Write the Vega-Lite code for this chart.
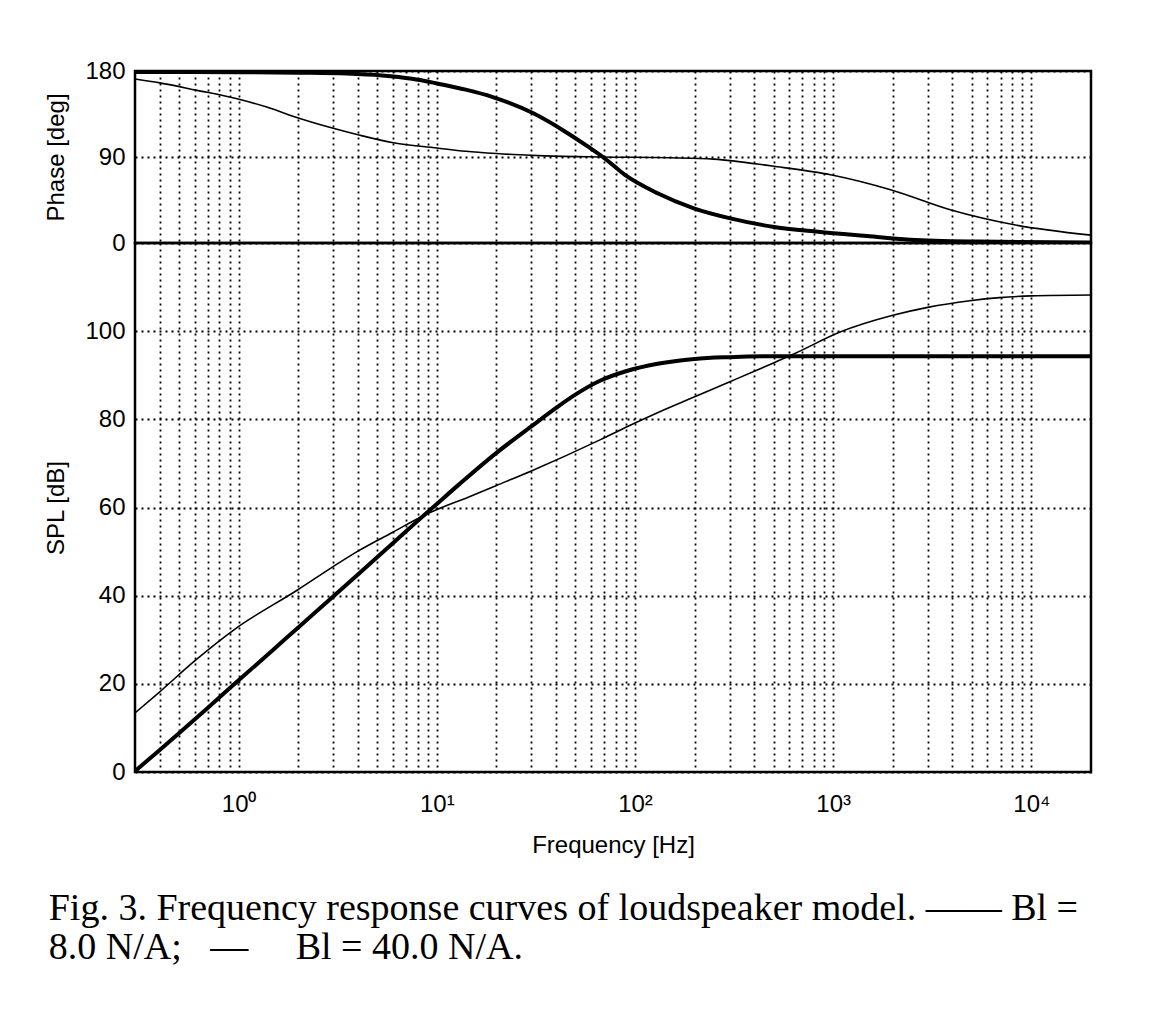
{
  "$schema": "https://vega.github.io/schema/vega-lite/v6.json",
  "padding": {"left": 43, "top": 57, "right": 69, "bottom": 60},
  "background": "white",
  "bounds": "flush",
  "title": {
    "text": ["Fig. 3. Frequency response curves of loudspeaker model.\u00a0——\u00a0Bl =", "8.0 N/A;\u00a0\u00a0\u00a0—\u00a0\u00a0\u00a0\u00a0\u00a0Bl = 40.0 N/A."],
    "orient": "bottom",
    "anchor": "start",
    "font": "Liberation Serif",
    "fontSize": 38,
    "fontWeight": "normal",
    "color": "black",
    "lineHeight": 39,
    "offset": 32,
    "dx": 5
  },
  "datasets": {
    "phase": [
      {"f": 0.3, "v": 179, "s": "Bl = 8.0 N/A"},
      {"f": 1, "v": 178.8, "s": "Bl = 8.0 N/A"},
      {"f": 2, "v": 178.2, "s": "Bl = 8.0 N/A"},
      {"f": 3.5, "v": 177.3, "s": "Bl = 8.0 N/A"},
      {"f": 5.3, "v": 175.3, "s": "Bl = 8.0 N/A"},
      {"f": 7.5, "v": 171.8, "s": "Bl = 8.0 N/A"},
      {"f": 10, "v": 167, "s": "Bl = 8.0 N/A"},
      {"f": 14, "v": 160.5, "s": "Bl = 8.0 N/A"},
      {"f": 19, "v": 153, "s": "Bl = 8.0 N/A"},
      {"f": 30.7, "v": 135.7, "s": "Bl = 8.0 N/A"},
      {"f": 44.5, "v": 116.5, "s": "Bl = 8.0 N/A"},
      {"f": 58, "v": 100.8, "s": "Bl = 8.0 N/A"},
      {"f": 70.3, "v": 88.6, "s": "Bl = 8.0 N/A"},
      {"f": 89, "v": 71.2, "s": "Bl = 8.0 N/A"},
      {"f": 130, "v": 52, "s": "Bl = 8.0 N/A"},
      {"f": 198, "v": 36.3, "s": "Bl = 8.0 N/A"},
      {"f": 303, "v": 25.8, "s": "Bl = 8.0 N/A"},
      {"f": 494, "v": 17.1, "s": "Bl = 8.0 N/A"},
      {"f": 840, "v": 11.8, "s": "Bl = 8.0 N/A"},
      {"f": 1432, "v": 7.5, "s": "Bl = 8.0 N/A"},
      {"f": 2438, "v": 3.5, "s": "Bl = 8.0 N/A"},
      {"f": 5420, "v": 1.5, "s": "Bl = 8.0 N/A"},
      {"f": 20000, "v": 0.5, "s": "Bl = 8.0 N/A"},
      {"f": 0.3, "v": 171.6, "s": "Bl = 40.0 N/A"},
      {"f": 0.4, "v": 167.6, "s": "Bl = 40.0 N/A"},
      {"f": 0.61, "v": 160, "s": "Bl = 40.0 N/A"},
      {"f": 0.97, "v": 151.2, "s": "Bl = 40.0 N/A"},
      {"f": 1.4, "v": 142, "s": "Bl = 40.0 N/A"},
      {"f": 1.93, "v": 131.9, "s": "Bl = 40.0 N/A"},
      {"f": 2.97, "v": 120.3, "s": "Bl = 40.0 N/A"},
      {"f": 4.05, "v": 113, "s": "Bl = 40.0 N/A"},
      {"f": 5.94, "v": 105.2, "s": "Bl = 40.0 N/A"},
      {"f": 10, "v": 99.5, "s": "Bl = 40.0 N/A"},
      {"f": 14, "v": 96, "s": "Bl = 40.0 N/A"},
      {"f": 20, "v": 93.6, "s": "Bl = 40.0 N/A"},
      {"f": 35, "v": 91.2, "s": "Bl = 40.0 N/A"},
      {"f": 68, "v": 90, "s": "Bl = 40.0 N/A"},
      {"f": 150, "v": 89.2, "s": "Bl = 40.0 N/A"},
      {"f": 250, "v": 87.8, "s": "Bl = 40.0 N/A"},
      {"f": 492, "v": 80.5, "s": "Bl = 40.0 N/A"},
      {"f": 984, "v": 71.2, "s": "Bl = 40.0 N/A"},
      {"f": 1968, "v": 55.5, "s": "Bl = 40.0 N/A"},
      {"f": 3937, "v": 34.5, "s": "Bl = 40.0 N/A"},
      {"f": 8318, "v": 18.8, "s": "Bl = 40.0 N/A"},
      {"f": 20000, "v": 8.2, "s": "Bl = 40.0 N/A"}
    ],
    "spl": [
      {"f": 0.3, "v": 0.2, "s": "Bl = 8.0 N/A"},
      {"f": 0.4, "v": 5, "s": "Bl = 8.0 N/A"},
      {"f": 0.5, "v": 8.8, "s": "Bl = 8.0 N/A"},
      {"f": 0.7, "v": 14.6, "s": "Bl = 8.0 N/A"},
      {"f": 1, "v": 20.8, "s": "Bl = 8.0 N/A"},
      {"f": 1.5, "v": 27.8, "s": "Bl = 8.0 N/A"},
      {"f": 2, "v": 32.8, "s": "Bl = 8.0 N/A"},
      {"f": 3, "v": 39.8, "s": "Bl = 8.0 N/A"},
      {"f": 4, "v": 44.8, "s": "Bl = 8.0 N/A"},
      {"f": 5, "v": 48.7, "s": "Bl = 8.0 N/A"},
      {"f": 6, "v": 51.9, "s": "Bl = 8.0 N/A"},
      {"f": 7, "v": 54.6, "s": "Bl = 8.0 N/A"},
      {"f": 8.7, "v": 58.4, "s": "Bl = 8.0 N/A"},
      {"f": 10, "v": 60.8, "s": "Bl = 8.0 N/A"},
      {"f": 13, "v": 65.3, "s": "Bl = 8.0 N/A"},
      {"f": 20, "v": 72.4, "s": "Bl = 8.0 N/A"},
      {"f": 30, "v": 78.4, "s": "Bl = 8.0 N/A"},
      {"f": 40, "v": 82.6, "s": "Bl = 8.0 N/A"},
      {"f": 50, "v": 85.6, "s": "Bl = 8.0 N/A"},
      {"f": 67, "v": 88.8, "s": "Bl = 8.0 N/A"},
      {"f": 90, "v": 90.9, "s": "Bl = 8.0 N/A"},
      {"f": 130, "v": 92.6, "s": "Bl = 8.0 N/A"},
      {"f": 200, "v": 93.7, "s": "Bl = 8.0 N/A"},
      {"f": 300, "v": 94.1, "s": "Bl = 8.0 N/A"},
      {"f": 500, "v": 94.3, "s": "Bl = 8.0 N/A"},
      {"f": 20000, "v": 94.3, "s": "Bl = 8.0 N/A"},
      {"f": 0.3, "v": 13.4, "s": "Bl = 40.0 N/A"},
      {"f": 0.4, "v": 18.2, "s": "Bl = 40.0 N/A"},
      {"f": 0.6, "v": 25.2, "s": "Bl = 40.0 N/A"},
      {"f": 0.97, "v": 32.6, "s": "Bl = 40.0 N/A"},
      {"f": 2, "v": 41.4, "s": "Bl = 40.0 N/A"},
      {"f": 3, "v": 46.6, "s": "Bl = 40.0 N/A"},
      {"f": 4, "v": 50.1, "s": "Bl = 40.0 N/A"},
      {"f": 6, "v": 54.4, "s": "Bl = 40.0 N/A"},
      {"f": 8.7, "v": 58.3, "s": "Bl = 40.0 N/A"},
      {"f": 14.5, "v": 62.4, "s": "Bl = 40.0 N/A"},
      {"f": 20, "v": 65, "s": "Bl = 40.0 N/A"},
      {"f": 30, "v": 68.3, "s": "Bl = 40.0 N/A"},
      {"f": 67, "v": 75.4, "s": "Bl = 40.0 N/A"},
      {"f": 90, "v": 78.2, "s": "Bl = 40.0 N/A"},
      {"f": 130, "v": 81.5, "s": "Bl = 40.0 N/A"},
      {"f": 200, "v": 85.1, "s": "Bl = 40.0 N/A"},
      {"f": 293, "v": 88.3, "s": "Bl = 40.0 N/A"},
      {"f": 400, "v": 90.9, "s": "Bl = 40.0 N/A"},
      {"f": 500, "v": 92.8, "s": "Bl = 40.0 N/A"},
      {"f": 645, "v": 95, "s": "Bl = 40.0 N/A"},
      {"f": 1084, "v": 99.8, "s": "Bl = 40.0 N/A"},
      {"f": 2000, "v": 103.6, "s": "Bl = 40.0 N/A"},
      {"f": 3000, "v": 105.4, "s": "Bl = 40.0 N/A"},
      {"f": 4900, "v": 106.9, "s": "Bl = 40.0 N/A"},
      {"f": 6900, "v": 107.6, "s": "Bl = 40.0 N/A"},
      {"f": 10000, "v": 108, "s": "Bl = 40.0 N/A"},
      {"f": 20000, "v": 108.2, "s": "Bl = 40.0 N/A"}
    ]
  },
  "spacing": 0,
  "vconcat": [
    {
      "width": 956,
      "height": 172,
      "data": {"name": "phase"},
      "mark": {"type": "line", "color": "black", "clip": true, "interpolate": "monotone"},
      "encoding": {
        "x": {
          "field": "f", "type": "quantitative",
          "scale": {"type": "log", "domain": [0.3, 20000], "nice": false},
          "axis": {
            "values": [0.4,0.5,0.6,0.7,0.8,0.9,1,2,3,4,5,6,7,8,9,10,20,30,40,50,60,70,80,90,100,200,300,400,500,600,700,800,900,1000,2000,3000,4000,5000,6000,7000,8000,9000,10000],
            "labels": false, "ticks": false, "title": null, "grid": true,
            "minExtent": 0, "maxExtent": 0, "labelPadding": 0, "titlePadding": 0, "offset": 0
          }
        },
        "y": {
          "field": "v", "type": "quantitative",
          "scale": {"domain": [0, 180], "nice": false},
          "axis": {"values": [0, 90, 180], "title": "Phase [deg]", "grid": true}
        },
        "strokeWidth": {
          "field": "s", "type": "nominal",
          "scale": {"domain": ["Bl = 8.0 N/A", "Bl = 40.0 N/A"], "range": [4, 1.6]},
          "legend": null
        },
        "detail": {"field": "s"}
      }
    },
    {
      "width": 956,
      "height": 529,
      "data": {"name": "spl"},
      "mark": {"type": "line", "color": "black", "clip": true, "interpolate": "monotone"},
      "encoding": {
        "x": {
          "field": "f", "type": "quantitative",
          "scale": {"type": "log", "domain": [0.3, 20000], "nice": false},
          "axis": {
            "values": [0.4,0.5,0.6,0.7,0.8,0.9,1,2,3,4,5,6,7,8,9,10,20,30,40,50,60,70,80,90,100,200,300,400,500,600,700,800,900,1000,2000,3000,4000,5000,6000,7000,8000,9000,10000],
            "labelExpr": "datum.value == 1 ? '10⁰' : datum.value == 10 ? '10¹' : datum.value == 100 ? '10²' : datum.value == 1000 ? '10³' : datum.value == 10000 ? '10⁴' : ''",
            "ticks": false, "title": "Frequency [Hz]", "grid": true,
            "labelPadding": 20, "titlePadding": 17, "labelOverlap": false
          }
        },
        "y": {
          "field": "v", "type": "quantitative",
          "scale": {"domain": [0, 120], "nice": false},
          "axis": {"values": [0, 20, 40, 60, 80, 100], "title": "SPL [dB]", "grid": true}
        },
        "strokeWidth": {
          "field": "s", "type": "nominal",
          "scale": {"domain": ["Bl = 8.0 N/A", "Bl = 40.0 N/A"], "range": [4, 1.6]},
          "legend": null
        },
        "detail": {"field": "s"}
      }
    }
  ],
  "config": {
    "view": {"stroke": "black", "strokeWidth": 2.5},
    "axis": {
      "domain": false,
      "ticks": false,
      "grid": true,
      "gridColor": "black",
      "gridDash": [2, 4],
      "gridWidth": 1.8,
      "gridOpacity": 1,
      "labelFont": "Liberation Sans",
      "labelFontSize": 24,
      "labelColor": "black",
      "labelPadding": 10,
      "titleFont": "Liberation Sans",
      "titleFontSize": 24,
      "titleFontWeight": "normal",
      "titleColor": "black",
      "titlePadding": 16
    }
  }
}
